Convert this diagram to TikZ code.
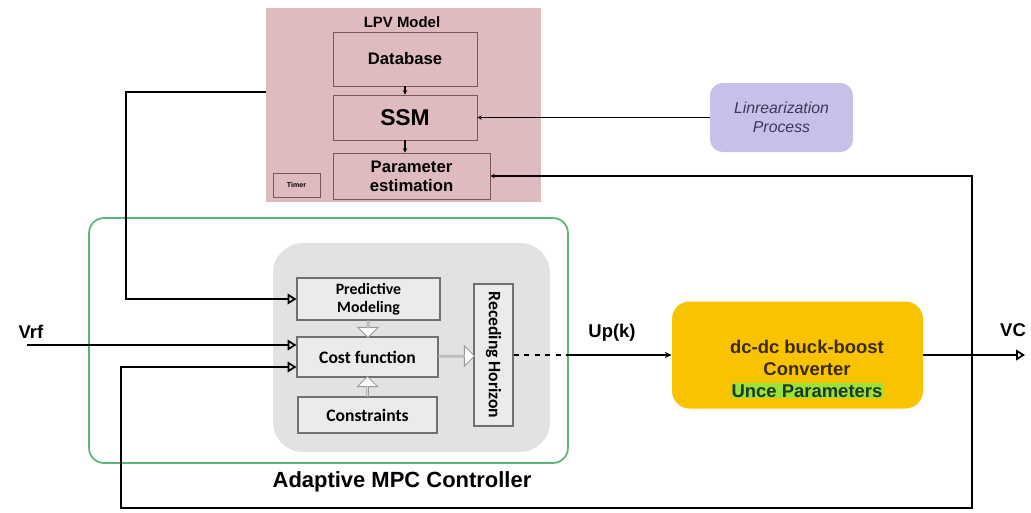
\documentclass[tikz,border=0pt]{standalone}
\usepackage{fontspec}
\setmainfont{Liberation Sans}
\newfontfamily\carlito{Carlito}
\usetikzlibrary{arrows.meta, positioning, shapes.arrows, calc}

\definecolor{lpvpink}{HTML}{DFBBBF}
\definecolor{lpvline}{HTML}{7A5559}
\definecolor{linfill}{HTML}{C9C0EA}
\definecolor{lintext}{HTML}{3A3858}
\definecolor{mpcgreen}{HTML}{5AB57A}
\definecolor{mpcgray}{HTML}{E2E2E2}
\definecolor{mpcinner}{HTML}{EBEBEB}
\definecolor{mpcline}{HTML}{707070}
\definecolor{convgold}{HTML}{F9C300}
\definecolor{convtext}{HTML}{3A2A05}
\definecolor{unclime}{HTML}{9CE03A}
\definecolor{unctext}{HTML}{1F3A1F}

\begin{document}
\begin{tikzpicture}[
    x=0.02cm, y=-0.02cm,
    pinkbox/.style={rectangle, draw=lpvline, fill=lpvpink, line width=0.5pt, font=\bfseries, align=center, inner sep=1pt},
    mpcbox/.style={rectangle, draw=mpcline, fill=mpcinner, line width=0.6pt, font=\carlito\bfseries\fontsize{10}{11}\selectfont, align=center, inner sep=1pt},
    hollow/.style={single arrow, draw=gray!80, fill=white, line width=0.5pt, minimum width=0.4cm, single arrow head extend=0.1cm, inner sep=0pt},
    openarrow/.style={-{Triangle[open, length=5pt, width=6pt]}, line width=1pt},
    tinyarrow/.style={-{Stealth[length=2.5pt, width=2.5pt]}, line width=0.6pt},
    label/.style={font=\bfseries\fontsize{10.5}{12}\selectfont}
]
\useasboundingbox (0,0) rectangle (1031,512);

% LPV model
\node[rectangle, fill=lpvpink, minimum width=5.5cm, minimum height=3.88cm] (lpv) at (403.5,105) {};
\node[font=\bfseries\fontsize{8.5}{10}\selectfont] (lpvtitle) at (402,22) {LPV Model};
\node[pinkbox, minimum width=2.88cm, minimum height=1.08cm, font=\bfseries\fontsize{9.5}{11}\selectfont] (db) at (405,59) {Database};
\node[pinkbox, minimum width=2.88cm, minimum height=0.9cm, font=\bfseries\fontsize{13}{15}\selectfont] (ssm) at (405,117.5) {SSM};
\node[pinkbox, minimum width=3.14cm, minimum height=0.92cm, font=\bfseries\fontsize{9.5}{11}\selectfont] (pe) at (411.5,176) {Parameter\\estimation};
\node[pinkbox, minimum width=0.94cm, minimum height=0.48cm, font=\bfseries\fontsize{4}{5}\selectfont] (timer) at (296.5,185) {Timer};

% Linearization
\node[rectangle, rounded corners=0.25cm, fill=linfill, minimum width=2.86cm, minimum height=1.38cm, text=lintext, font=\itshape\fontsize{9}{11}\selectfont, align=center] (lin) at (781.5,117.5) {Linrearization\\Process};

% Adaptive MPC controller
\node[rectangle, rounded corners=0.3cm, draw=mpcgreen, line width=1pt, minimum width=9.58cm, minimum height=4.9cm] (mpc) at (328.5,340.5) {};
\node[font=\bfseries\fontsize{12.5}{14}\selectfont] (mpclabel) at (402,482) {Adaptive MPC Controller};
\node[rectangle, rounded corners=0.6cm, fill=mpcgray, minimum width=5.54cm, minimum height=4.18cm] (core) at (411.5,347.5) {};
\node[mpcbox, minimum width=2.86cm, minimum height=0.84cm, font=\carlito\bfseries\fontsize{9}{10}\selectfont] (pm) at (368.5,299) {Predictive\\Modeling};
\node[mpcbox, minimum width=2.82cm, minimum height=0.8cm] (cf) at (367.5,357) {Cost function};
\node[mpcbox, minimum width=2.78cm, minimum height=0.72cm] (cs) at (367.5,415) {Constraints};
\node[mpcbox, minimum width=0.78cm, minimum height=2.84cm] (rh) at (493.5,355) {\rotatebox{-90}{Receding Horizon}};

% Converter
\node[rectangle, rounded corners=0.35cm, fill=convgold, minimum width=5.02cm, minimum height=2.14cm] (conv) at (797.5,355) {};
\node[font=\bfseries\fontsize{10.5}{12.5}\selectfont, text=convtext, align=center] (convtext) at (807,369)
  {dc-dc buck-boost\\Converter\\{\fboxsep=0.6pt\colorbox{unclime}{\color{unctext}Unce Parameters}}};

% Labels
\node[label] (vrf) at (31,332) {Vrf};
\node[label] (upk) at (612,333) {Up(k)};
\node[label] (vc) at (1013,330) {VC};

\coordinate (vrfin) at (27,345);
\coordinate (vcout) at (1025,355);
\coordinate (fb) at (972,355);
\coordinate (fbbot) at (121,508);

% Arrows - LPV model
\draw[tinyarrow] (db) -- (ssm);
\draw[tinyarrow] (ssm.south) -- (ssm.south |- pe.north);
\draw[tinyarrow] (lin.west) -- (ssm.east);
\draw[openarrow] ([yshift=0.26cm]lpv.west) -- ++(-140,0) |- (pm.west);

% Arrows - inside controller
\node[hollow, shape border rotate=270, minimum height=0.34cm] (pmcf) at ($(pm.south)!0.5!(cf.north)$) {};
\node[hollow, shape border rotate=90, minimum height=0.4cm] (cscf) at ($(cs.north)!0.5!(cf.south)$) {};
\node[hollow, minimum height=0.72cm] (cfrh) at ($(cf.east)!0.5!(rh.west)$) {};

% Arrows - loop
\draw[openarrow] (vrfin) -- ([yshift=0.24cm]cf.west);
\draw[line width=1pt, dashed] (rh.east) -- (rh.east -| mpc.east);
\draw[-{Stealth[length=4pt, width=3.5pt]}, line width=1pt] (rh.east -| mpc.east) -- (conv.west);
\draw[openarrow] (conv.east) -- (vcout);
\draw[tinyarrow, line width=1pt] (fb) |- (pe.east);
\draw[openarrow] (fb) |- (fbbot) |- ([yshift=-0.2cm]cf.west);

\end{tikzpicture}
\end{document}
